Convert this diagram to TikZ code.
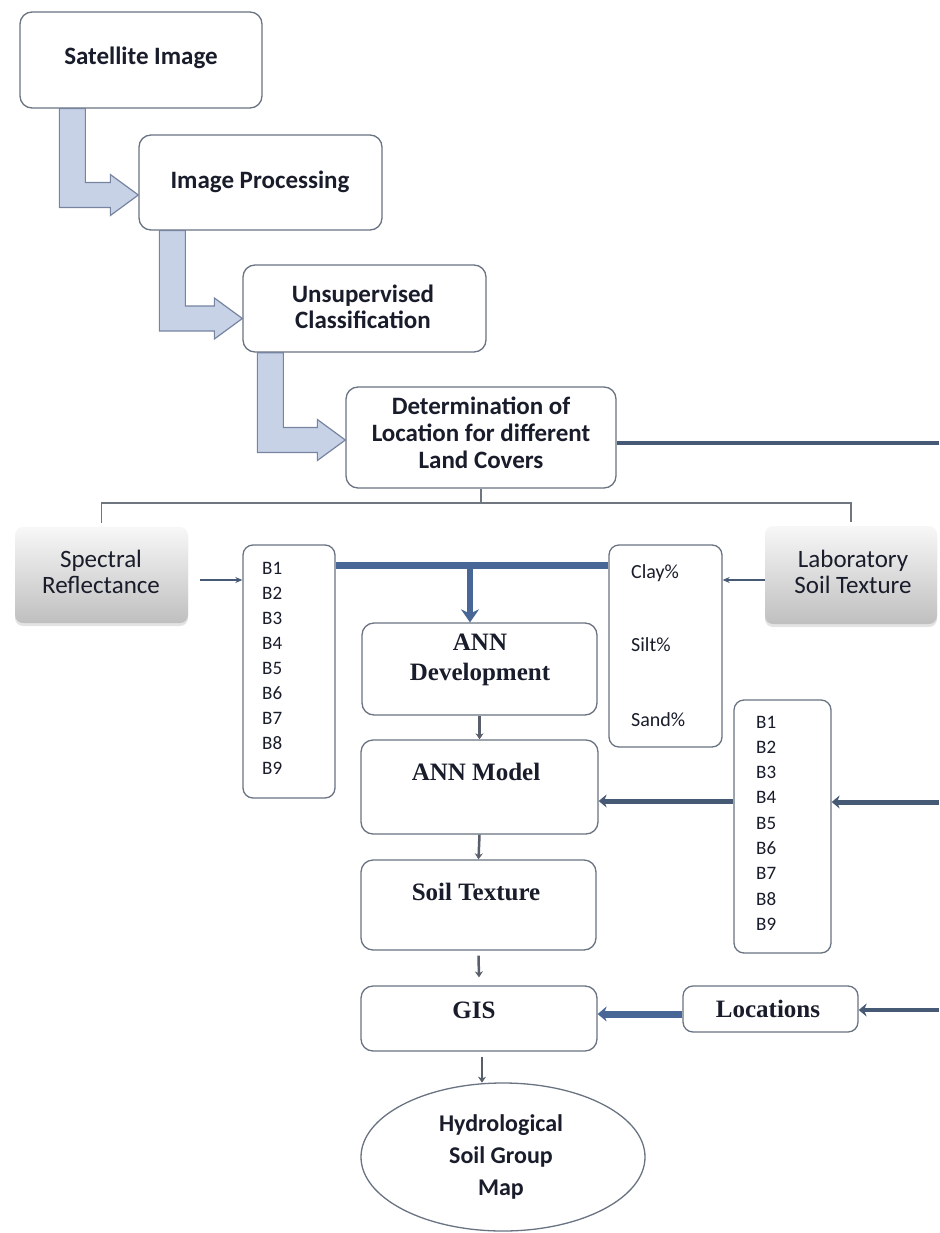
\documentclass[tikz,border=0pt]{standalone}
\usepackage{fontspec}
\setmainfont{Liberation Serif}
\newfontfamily\calf{Carlito}
\usetikzlibrary{arrows.meta,calc,shapes.geometric,shadows}
\definecolor{bordc}{RGB}{105,115,130}
\definecolor{barfill}{RGB}{200,210,231}
\definecolor{bardraw}{RGB}{118,132,160}
\definecolor{thickc}{RGB}{72,102,150}
\definecolor{darkc}{RGB}{70,90,118}
\definecolor{txt}{RGB}{25,28,42}
\definecolor{arrg}{RGB}{88,94,106}
\definecolor{brkc}{RGB}{112,118,128}
\newcommand\blkarrow[5]{%
  \coordinate (#5s) at ($(#1.south west)+(#3,0)$);
  \coordinate (#5t) at ($(#2.west)+(0,#4)$);
  \filldraw[blockarr] (#5s) -- ++(26,0) |- ($(#5t)+(-28,-12.5)$) -- ++(0,-8) -- (#5t)
    -- ($(#5t)+(-28,20.5)$) -- ++(0,-8) -| (#5s) -- cycle;}
\begin{document}
\begin{tikzpicture}[x=1pt,y=-1pt,
  box/.style={draw=bordc,line width=1.3pt,rounded corners=12pt,fill=white,inner sep=0pt},
  sbox/.style={draw=bordc,line width=1.3pt,rounded corners=10pt,fill=white,inner sep=0pt},
  gradbox/.style={rounded corners=8pt,top color=gray!6,bottom color=gray!50,inner sep=0pt,
    drop shadow={opacity=0.22,shadow xshift=0pt,shadow yshift=-3pt}},
  blockarr/.style={fill=barfill,draw=bardraw,line width=1.2pt,line join=miter},
  sanst/.style={font=\calf\bfseries\fontsize{25}{26}\selectfont,text=txt,align=center,inner sep=0pt},
  sansr/.style={font=\calf\fontsize{25}{26}\selectfont,text=txt,align=center,inner sep=0pt},
  btxt/.style={font=\calf\fontsize{19}{20}\selectfont,text=txt,inner sep=0pt},
  ctxt/.style={font=\calf\fontsize{20}{22}\selectfont,text=txt,inner sep=0pt},
  sert/.style={font=\bfseries\fontsize{25}{30}\selectfont,text=txt,align=center,inner sep=0pt},
  brk/.style={draw=brkc,line width=1.5pt},
  thinarr/.style={draw=darkc,line width=1.5pt,-{Stealth[length=7pt,width=6pt]}},
  smallarr/.style={draw=arrg,line width=2.5pt,-{Stealth[length=6pt,width=8pt]}},
  thickarr/.style={draw=darkc,line width=5pt,-{Stealth[length=8pt,width=13pt]}},
]
\useasboundingbox (0,0) rectangle (939,1233);

% top chain of boxes
\node[box,minimum width=242,minimum height=96] (sat) at (141,60) {};
\node[box,minimum width=243,minimum height=95] (imgp) at (260.5,182.5) {};
\node[box,minimum width=243,minimum height=87] (unsup) at (364.5,308.5) {};
\node[box,minimum width=270,minimum height=101] (det) at (481,437.5) {};

\blkarrow{sat}{imgp}{40}{12.5}{ba1}
\blkarrow{imgp}{unsup}{21}{10}{ba2}
\blkarrow{unsup}{det}{15}{2.5}{ba3}

\node[sanst] (satt) at (141,58) {Satellite Image};
\node[sanst] (imgpt) at (260,182) {Image Processing};
\node[sanst] (unsupt) at (363,307) {Unsupervised\\Classification};
\node[sanst,font=\calf\bfseries\fontsize{25}{27}\selectfont] (dett) at (481,433) {Determination of\\Location for different\\Land Covers};

% gradient boxes
\node[gradbox,minimum width=173,minimum height=96] (spec) at (101.5,575) {};
\node[gradbox,minimum width=172,minimum height=98] (lab) at (851,575) {};
\node[sansr] (spect) at (101,572) {Spectral\\Reflectance};
\node[sansr] (labt) at (853,572) {Laboratory\\Soil Texture};

% bracket
\coordinate (brky) at (0,503);
\draw[brk] (det.south) -- (det.south |- brky);
\draw[brk] ($(spec.north)+(0,-4)$) |- (lab.north |- brky) -- ($(lab.north)+(0,-4)$);

% line to the right edge
\coordinate (edgeA) at (939,443);
\draw[draw=darkc,line width=4.5pt] (det.east |- edgeA) -- (edgeA);

% band boxes
\node[sbox,minimum width=92,minimum height=253] (bleft) at (289,671.5) {};
\foreach \i in {1,...,9} \node[btxt,anchor=west] (bl\i) at (262,{568+25*(\i-1)}) {B\i};
\node[sbox,minimum width=113,minimum height=202] (clay) at (665.5,646) {};
\node[ctxt,anchor=west] (clayt) at (631,573) {Clay\%};
\node[ctxt,anchor=west] (siltt) at (631,645) {Silt\%};
\node[ctxt,anchor=west] (sandt) at (631,720) {Sand\%};
\node[sbox,minimum width=97,minimum height=253] (bright) at (782.5,826.5) {};
\foreach \i in {1,...,9} \node[btxt,anchor=west] (br\i) at (756,{722+25.25*(\i-1)}) {B\i};

% central chain
\node[box,minimum width=235,minimum height=92] (anndev) at (479.5,669) {};
\node[box,minimum width=237,minimum height=94] (annmod) at (479.5,787) {};
\node[box,minimum width=235,minimum height=90] (soil) at (478.5,905) {};
\node[box,minimum width=236,minimum height=65] (gis) at (479,1018.5) {};
\node[sbox,minimum width=175,minimum height=46] (loc) at (770.5,1009) {};
\node[draw=bordc,line width=1.3pt,ellipse,fill=white,minimum width=284,minimum height=148,inner sep=0pt] (ell) at (503,1157) {};

\node[sert] (anndevt) at (480,660) {ANN\\Development};
\node[sert] (annmodt) at (476,772) {ANN Model};
\node[sert] (soilt) at (476,892) {Soil Texture};
\node[sert] (gist) at (474,1010) {GIS};
\node[sert] (loct) at (768,1009) {Locations};
\node[sanst,font=\calf\bfseries\fontsize{24}{32}\selectfont] (ellt) at (501,1157) {Hydrological\\Soil Group\\Map};

% thin input arrows
\coordinate (specy) at (0,580);
\draw[thinarr] ($(spec.east |- specy)+(12,0)$) -- (bleft.west |- specy);
\draw[thinarr] (lab.west |- specy) -- (clay.east |- specy);

% thick joining line and arrow to ANN development
\coordinate (joiny) at (0,565);
\coordinate (joinx) at (470,565);
\draw[draw=thickc,line width=7pt] (bleft.east |- joiny) -- (clay.west |- joiny);
\draw[draw=thickc,line width=6pt,-{Stealth[length=13pt,width=18pt]}] (joinx) -- (joinx |- anndev.north);

% small vertical arrows
\draw[smallarr] (anndev.south) -- (annmod.north);
\draw[smallarr] (annmod.south) -- (soil.north);
\draw[smallarr] ($(soil.south)+(0,5)$) -- ($(gis.north)+(0,-8)$);
\draw[smallarr] ($(gis.south)+(3,5)$) -- ($(gis.south)+(3,31)$);

% thick arrows from the right
\coordinate (modely) at (0,801);
\coordinate (edgeB) at (939,802);
\draw[thickarr] (bright.west |- modely) -- (annmod.east |- modely);
\draw[thickarr] (edgeB) -- (bright.east |- edgeB);
\coordinate (gisy) at (0,1014);
\coordinate (edgeC) at (939,1010);
\draw[thickarr,draw=thickc,line width=7pt,-{Stealth[length=9pt,width=15pt]}] (loc.west |- gisy) -- (gis.east |- gisy);
\draw[thickarr,line width=4pt] (edgeC) -- (loc.east |- edgeC);
\end{tikzpicture}
\end{document}
